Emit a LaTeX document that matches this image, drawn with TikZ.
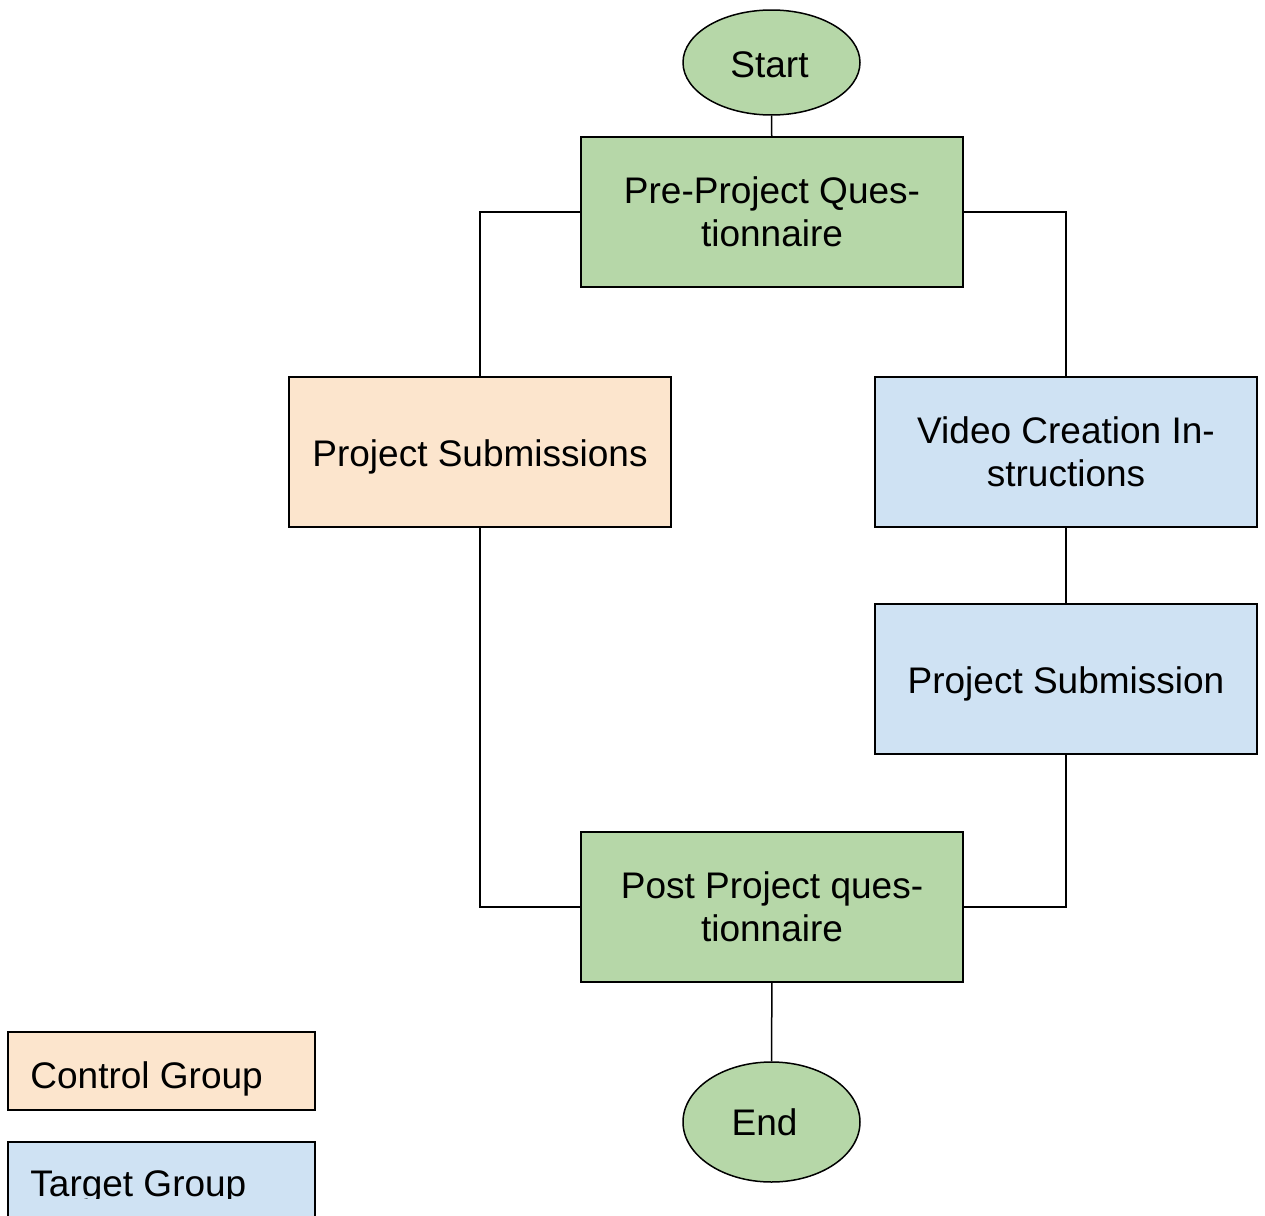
\documentclass[tikz,border=0pt]{standalone}
\usepackage{fontspec}
\setmainfont{Liberation Sans}
\usetikzlibrary{shapes.geometric}
\definecolor{gfill}{HTML}{B6D7A8}
\definecolor{ofill}{HTML}{FCE5CD}
\definecolor{bfill}{HTML}{CFE2F3}
\begin{document}
\begin{tikzpicture}[x=0.5pt,y=-0.5pt,
  every node/.style={font=\fontsize{18.5pt}{21.5pt}\selectfont},
  box/.style={draw=black,line width=0.75pt,rectangle,minimum width=191pt,minimum height=75pt,inner sep=0pt,align=center},
  onebox/.style={box,text height=17pt,text depth=3pt},
  oval/.style={draw=black,line width=0.75pt,ellipse,fill=gfill,minimum width=88.5pt,inner sep=0pt},
  conn/.style={draw=black,line width=0.75pt}]
\useasboundingbox (0,0) rectangle (1265,1216);
\clip (0,0) rectangle (1265,1216);
\node[oval,minimum height=52.5pt,text height=14.5pt,text depth=0pt] (start) at (771.5,62.5) {Start\hspace*{2pt}};
\node[box,fill=gfill] (pre) at (772,212) {Pre-Project Ques-\\tionnaire};
\node[onebox,fill=ofill] (psubs) at (480,452) {Project Submissions};
\node[box,fill=bfill] (video) at (1066,452) {Video Creation In-\\structions};
\node[onebox,fill=bfill] (psub) at (1066,679) {Project Submission};
\node[box,fill=gfill] (post) at (772,907) {Post Project ques-\\tionnaire};
\node[oval,minimum height=60pt] (end) at (771.5,1122) {End\hspace*{7pt}};
\draw[conn] (start) -- (pre);
\draw[conn] (pre.west) -| (psubs.north);
\draw[conn] (pre.east) -| (video.north);
\draw[conn] (video) -- (psub);
\draw[conn] (psubs.south) |- (post.west);
\draw[conn] (psub.south) |- (post.east);
\draw[conn] (post) -- (end);
% legend
\node[draw=black,line width=0.75pt,fill=ofill,minimum width=153.5pt,minimum height=39pt,inner sep=0pt] (lctrl) at (161.5,1071) {};
\node[anchor=base west,inner sep=0pt] (lctrltxt) at (30,1088) {Control Group};
\node[draw=black,line width=0.75pt,fill=bfill,minimum width=153.5pt,minimum height=50pt,inner sep=0pt] (ltgt) at (161.5,1192) {};
\begin{scope}
\clip (0,0) rectangle (1265,1198);
\node[anchor=base west,inner sep=0pt] (ltgttxt) at (30,1196) {Target Group};
\end{scope}
\end{tikzpicture}
\end{document}
